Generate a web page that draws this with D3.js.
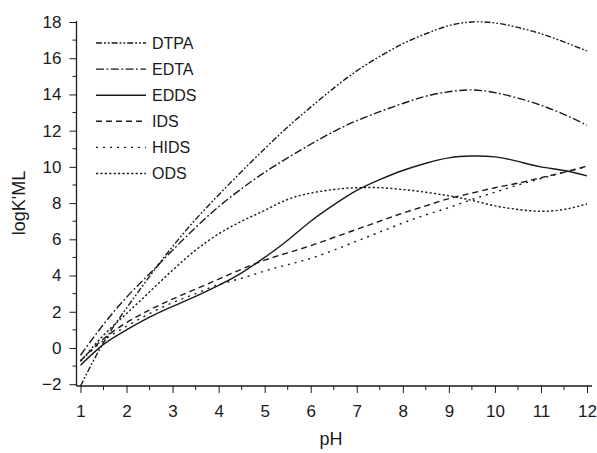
<!DOCTYPE html>
<html>
<head>
<meta charset="utf-8">
<script src="https://cdn.jsdelivr.net/npm/d3@7"></script>
<style>
  body { margin: 0; background: #fff; }
  text { font-family: "Liberation Sans", Arial, sans-serif; fill: #1a1a1a; }
  .line-path { fill: none; stroke: #1a1a1a; stroke-width: 1.4; }
</style>
</head>
<body>
<div id="viz"></div>
<script>
const width = 597;
const height = 453;

// pH values shared by every series
const pH = [1, 1.5, 2, 2.5, 3, 3.5, 4, 4.5, 5, 5.5, 6, 6.5, 7, 7.5, 8, 8.5, 9, 9.5, 10, 10.5, 11, 11.5, 12];

const DTPA = [-2.1, 0.3, 2.2, 3.95, 5.6, 7.1, 8.45, 9.75, 11.0, 12.2, 13.3, 14.35, 15.3, 16.1, 16.8, 17.35, 17.8, 18.0, 17.95, 17.7, 17.35, 16.9, 16.4];
const EDTA = [-0.4, 1.3, 2.8, 4.1, 5.4, 6.65, 7.8, 8.8, 9.7, 10.5, 11.25, 11.95, 12.55, 13.05, 13.5, 13.9, 14.15, 14.25, 14.1, 13.8, 13.4, 12.9, 12.3];
const EDDS = [-0.95, 0.2, 1.0, 1.7, 2.3, 2.85, 3.45, 4.15, 5.0, 5.95, 7.0, 7.9, 8.7, 9.3, 9.8, 10.2, 10.5, 10.6, 10.55, 10.3, 10.0, 9.8, 9.5];
const IDS = [-0.7, 0.5, 1.4, 2.1, 2.7, 3.25, 3.8, 4.35, 4.85, 5.25, 5.65, 6.1, 6.55, 7.0, 7.45, 7.85, 8.25, 8.55, 8.85, 9.1, 9.4, 9.7, 10.05];
const HIDS = [-0.7, 0.4, 1.2, 1.9, 2.5, 3.0, 3.5, 3.85, 4.25, 4.6, 4.95, 5.4, 5.9, 6.4, 6.9, 7.35, 7.75, 8.2, 8.6, 9.0, 9.35, 9.7, 10.0];
const ODS = [-0.75, 0.7, 1.9, 3.1, 4.3, 5.4, 6.3, 7.0, 7.6, 8.2, 8.55, 8.75, 8.85, 8.85, 8.75, 8.6, 8.4, 8.15, 7.85, 7.65, 7.55, 7.65, 7.95];

const names = ["DTPA", "EDTA", "EDDS", "IDS", "HIDS", "ODS"];
const seriesValues = [DTPA, EDTA, EDDS, IDS, HIDS, ODS];
const dashes = ["6,2,1.8,2,1.8,2", "8,2.5,1.8,2.5", null, "6,4", "2,5", "2.2,2.2"];

const xTicks = d3.range(1, 13, 1);
const xMinor = d3.range(1.5, 12, 1);
const yTicks = d3.range(-2, 19, 2);
const yMinor = d3.range(-1, 18, 2);

const svg = d3.select("#viz")
    .append("svg")
    .attr("width", width)
    .attr("height", height);

svg.append("rect").attr("width", width).attr("height", height).attr("fill", "#fff");

const xScale = d3.scaleLinear().domain([1, 12]).range([80.5, 587]);
const yScale = d3.scaleLinear().domain([-2.1, 18]).range([386, 22]);

const axisY0 = 386;
const axisX0 = 76.5;

// x axis
const xAxis = d3.axisBottom(xScale)
    .tickValues(xTicks)
    .tickSize(7)
    .tickSizeOuter(0)
    .tickPadding(12)
    .tickFormat(d3.format("d"));

const xAxisG = svg.append("g")
    .attr("transform", `translate(0, ${axisY0})`)
    .call(xAxis);
xAxisG.select(".domain").remove();

xAxisG.selectAll(".minor")
    .data(xMinor)
    .enter()
    .append("line")
    .attr("class", "minor")
    .attr("x1", d => xScale(d))
    .attr("x2", d => xScale(d))
    .attr("y1", 0)
    .attr("y2", 4)
    .attr("stroke", "#1a1a1a");

xAxisG.append("line")
    .attr("x1", axisX0)
    .attr("x2", 592)
    .attr("stroke", "#1a1a1a")
    .attr("stroke-width", 1.3);

// y axis
const yAxis = d3.axisLeft(yScale)
    .tickValues(yTicks)
    .tickSize(7)
    .tickSizeOuter(0)
    .tickPadding(8)
    .tickFormat(d3.format("d"));

const yAxisG = svg.append("g")
    .attr("transform", `translate(${axisX0}, 0)`)
    .call(yAxis);
yAxisG.select(".domain").remove();

yAxisG.selectAll(".minor")
    .data(yMinor)
    .enter()
    .append("line")
    .attr("class", "minor")
    .attr("x1", 0)
    .attr("x2", -4)
    .attr("y1", d => yScale(d))
    .attr("y2", d => yScale(d))
    .attr("stroke", "#1a1a1a");

yAxisG.append("line")
    .attr("y1", yScale(18) - 1)
    .attr("y2", axisY0)
    .attr("stroke", "#1a1a1a")
    .attr("stroke-width", 1.3);

svg.selectAll(".tick text")
    .attr("font-size", 17)
    .attr("fill", "#1a1a1a")
    .attr("font-family", "'Liberation Sans', Arial, sans-serif");
svg.selectAll(".tick line").attr("stroke", "#1a1a1a");

// axis labels
svg.append("text")
    .attr("x", 331)
    .attr("y", 445)
    .attr("text-anchor", "middle")
    .attr("font-size", 18)
    .text("pH");

svg.append("text")
    .attr("transform", `translate(25, 203) rotate(-90)`)
    .attr("text-anchor", "middle")
    .attr("font-size", 18)
    .text("logK'ML");

// curves
const lineGenerator = d3.line()
    .curve(d3.curveNatural)
    .x((d, i) => xScale(pH[i]))
    .y(d => yScale(d));

seriesValues.forEach((vals, i) => {
    svg.append("path")
        .attr("class", "line-path")
        .attr("d", lineGenerator(vals))
        .attr("stroke-dasharray", dashes[i]);
});

// legend
const legend = svg.append("g").attr("class", "legend");
const legendTop = 43;
const legendSpacing = 26.1;

names.forEach((name, i) => {
    const ly = legendTop + i * legendSpacing;
    legend.append("line")
        .attr("class", "line-path")
        .attr("x1", 96)
        .attr("x2", 146)
        .attr("y1", ly)
        .attr("y2", ly)
        .attr("stroke-dasharray", dashes[i]);
    legend.append("text")
        .attr("x", 152)
        .attr("y", ly)
        .attr("dy", "0.36em")
        .attr("font-size", 16)
        .text(name);
});
</script>
</body>
</html>
